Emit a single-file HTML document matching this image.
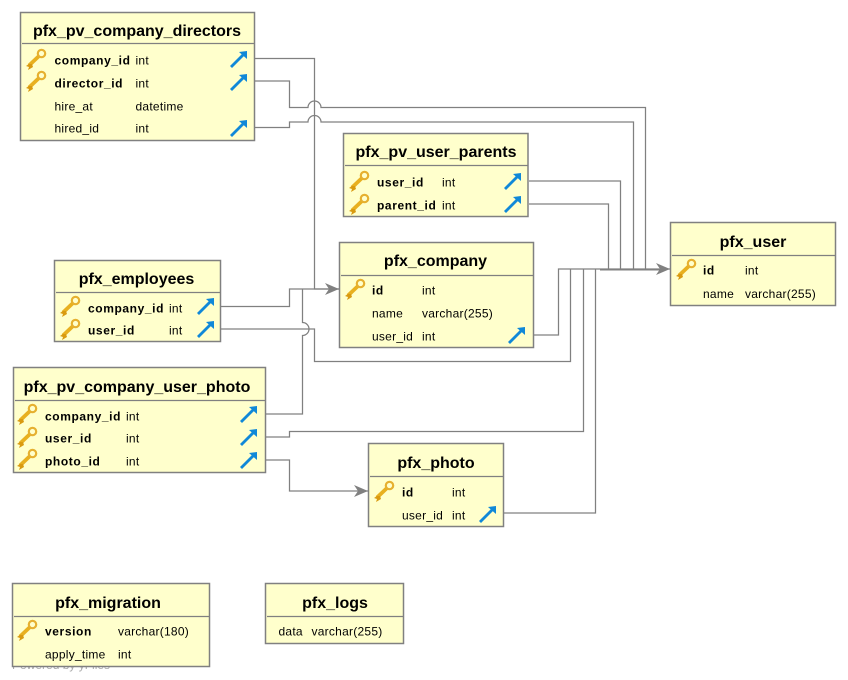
<!DOCTYPE html>
<html>
<head>
<meta charset="utf-8">
<style>
html,body{margin:0;padding:0;background:#fff;width:848px;height:680px;overflow:hidden}
svg{display:block}
.t{fill:#ffffcc;stroke:#808080;stroke-width:1.5}
.h{stroke:#808080;stroke-width:1.3}
.c{fill:none;stroke:#808080;stroke-width:1.25}
text{font-family:"Liberation Sans",sans-serif;fill:#000}
.n{font-weight:bold;font-size:16px;text-anchor:middle}
.b{font-weight:bold;font-size:12px;letter-spacing:.6px}
.r{font-size:12px;letter-spacing:.25px}
.w{font-size:12px;fill:#aaa}
</style>
</head>
<body>
<svg width="848" height="680" viewBox="0 0 848 680" xmlns="http://www.w3.org/2000/svg">
<defs>
<g id="k">
<path d="M13,7 L3,16.5" stroke="#e8b020" stroke-width="3.8" fill="none"/>
<path d="M3,15 L0,17 L3,18 L2,21 L7,18 L6,15 Z" fill="#d99a10"/>
<circle cx="15.5" cy="4.5" r="3.7" fill="#ffffcc" stroke="#e6b030" stroke-width="2.2"/>
</g>
<g id="f">
<path d="M1,16 L13,4" stroke="#1088d8" stroke-width="2.8" fill="none"/>
<path d="M9,1 L17,0 L17,8 Z" fill="#1088d8"/>
</g>
</defs>

<text class="w" x="12" y="669">Powered by yFiles</text>

<!-- connectors -->
<path class="c" d="M255,58.5 H314.5 V289 H339"/>
<path class="c" d="M255,81 H289.5 V107.5 H308 A6.5,6.5 0 0 1 321,107.5 H645.5 V269"/>
<path class="c" d="M255,127.5 H289.5 V122 H308 A6.5,6.5 0 0 1 321,122 H633.5 V269"/>
<path class="c" d="M529,181 H620.5 V269"/>
<path class="c" d="M529,204 H608.5 V269"/>
<path class="c" d="M220,306.5 H289.5 V289 H339"/>
<path class="c" d="M220,329 H314.5 V361.5 H570.5 V269"/>
<path class="c" d="M266,414 H302.5 V335.5 A6.5,6.5 0 0 0 302.5,322.5 V289"/>
<path class="c" d="M266,437 H289.5 V431.5 H583.5 V269"/>
<path class="c" d="M266,460 H289.5 V491 H368"/>
<path class="c" d="M504,513 H595.5 V269"/>
<path class="c" d="M534,335 H558.5 V269 H670"/>
<path d="M600,269.5 H660" stroke="#808080" stroke-width="2" fill="none"/>
<path d="M339,289 L325,283 L329,289 L325,295 Z" fill="#808080"/>
<path d="M670,269 L656,263 L660,269 L656,275 Z" fill="#808080"/>
<path d="M368,491 L354,485 L358,491 L354,497 Z" fill="#808080"/>

<!-- pfx_pv_company_directors -->
<rect class="t" x="20.5" y="12.5" width="234" height="128"/>
<path class="h" d="M22,43.5 H254"/>
<text class="n" x="137" y="36">pfx_pv_company_directors</text>
<text class="b" x="54.5" y="64.5">company_id</text><text class="r" x="135.5" y="64.5">int</text>
<text class="b" x="54.5" y="87.5">director_id</text><text class="r" x="135.5" y="87.5">int</text>
<text class="r" x="54.5" y="110.5">hire_at</text><text class="r" x="135.5" y="110.5">datetime</text>
<text class="r" x="54.5" y="132.5">hired_id</text><text class="r" x="135.5" y="132.5">int</text>
<use href="#k" x="26" y="49"/><use href="#k" x="26" y="71"/>
<use href="#f" x="230" y="51"/><use href="#f" x="230" y="74"/><use href="#f" x="230" y="120"/>

<!-- pfx_pv_user_parents -->
<rect class="t" x="343.5" y="133.5" width="184.5" height="83"/>
<path class="h" d="M345,165.5 H528"/>
<text class="n" x="436" y="157">pfx_pv_user_parents</text>
<text class="b" x="377" y="186.5">user_id</text><text class="r" x="442" y="186.5">int</text>
<text class="b" x="377" y="209.5">parent_id</text><text class="r" x="442" y="209.5">int</text>
<use href="#k" x="349" y="171"/><use href="#k" x="349" y="194"/>
<use href="#f" x="504" y="173"/><use href="#f" x="504" y="196"/>

<!-- pfx_company -->
<rect class="t" x="339.5" y="242.5" width="194" height="105"/>
<path class="h" d="M341,275.5 H533"/>
<text class="n" x="435.5" y="266">pfx_company</text>
<text class="b" x="372" y="294.5">id</text><text class="r" x="422" y="294.5">int</text>
<text class="r" x="372" y="317.5">name</text><text class="r" x="422" y="317.5">varchar(255)</text>
<text class="r" x="372" y="340.5">user_id</text><text class="r" x="422" y="340.5">int</text>
<use href="#k" x="345" y="279"/>
<use href="#f" x="508" y="327"/>

<!-- pfx_user -->
<rect class="t" x="670.5" y="222.5" width="165" height="83"/>
<path class="h" d="M672,255.5 H835"/>
<text class="n" x="753" y="247">pfx_user</text>
<text class="b" x="703" y="274.5">id</text><text class="r" x="745" y="274.5">int</text>
<text class="r" x="703" y="298">name</text><text class="r" x="745" y="298">varchar(255)</text>
<use href="#k" x="676" y="259"/>

<!-- pfx_employees -->
<rect class="t" x="54.5" y="260.5" width="166" height="81"/>
<path class="h" d="M56,292.5 H220"/>
<text class="n" x="136.5" y="284">pfx_employees</text>
<text class="b" x="88" y="312.5">company_id</text><text class="r" x="169" y="312.5">int</text>
<text class="b" x="88" y="334.5">user_id</text><text class="r" x="169" y="334.5">int</text>
<use href="#k" x="60" y="296"/><use href="#k" x="60" y="319"/>
<use href="#f" x="197" y="298"/><use href="#f" x="197" y="321"/>

<!-- pfx_pv_company_user_photo -->
<rect class="t" x="13.5" y="367.5" width="252" height="105"/>
<path class="h" d="M15,400.5 H265"/>
<text class="n" x="137" y="392">pfx_pv_company_user_photo</text>
<text class="b" x="45" y="420.5">company_id</text><text class="r" x="126" y="420.5">int</text>
<text class="b" x="45" y="442.5">user_id</text><text class="r" x="126" y="442.5">int</text>
<text class="b" x="45" y="465.5">photo_id</text><text class="r" x="126" y="465.5">int</text>
<use href="#k" x="17" y="404"/><use href="#k" x="17" y="427"/><use href="#k" x="17" y="449"/>
<use href="#f" x="240" y="406"/><use href="#f" x="240" y="429"/><use href="#f" x="240" y="452"/>

<!-- pfx_photo -->
<rect class="t" x="368.5" y="443.5" width="135" height="83"/>
<path class="h" d="M370,476.5 H503"/>
<text class="n" x="436" y="468">pfx_photo</text>
<text class="b" x="402" y="496.5">id</text><text class="r" x="452" y="496.5">int</text>
<text class="r" x="402" y="519.5">user_id</text><text class="r" x="452" y="519.5">int</text>
<use href="#k" x="374" y="481"/>
<use href="#f" x="479" y="506"/>

<!-- pfx_migration -->
<rect class="t" x="12.5" y="583.5" width="197" height="83"/>
<path class="h" d="M14,616.5 H209"/>
<text class="n" x="108" y="608">pfx_migration</text>
<text class="b" x="45" y="635.5">version</text><text class="r" x="118" y="635.5">varchar(180)</text>
<text class="r" x="45" y="658.5">apply_time</text><text class="r" x="118" y="658.5">int</text>
<use href="#k" x="17" y="620"/>

<!-- pfx_logs -->
<rect class="t" x="265.5" y="583.5" width="138" height="60"/>
<path class="h" d="M267,616.5 H403"/>
<text class="n" x="335" y="608">pfx_logs</text>
<text class="r" x="278.5" y="635.5">data</text><text class="r" x="311.5" y="635.5">varchar(255)</text>
</svg>
</body>
</html>
